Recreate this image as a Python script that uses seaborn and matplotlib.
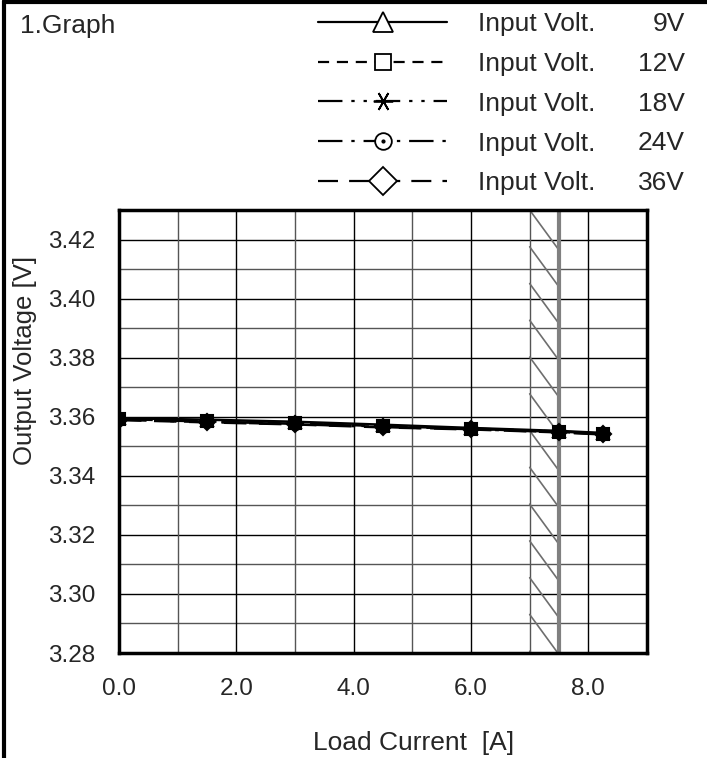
import numpy as np
import pandas as pd
import matplotlib
matplotlib.use('Agg')
import matplotlib.pyplot as plt
import seaborn as sns
from matplotlib.lines import Line2D
from matplotlib.legend_handler import HandlerTuple

# Load current [A] vs output voltage [V] for each input voltage
load_current = [0.0, 1.5, 3.0, 4.5, 6.0, 7.5, 8.25]
vout_9v = [3.3595, 3.3590, 3.3583, 3.3573, 3.3562, 3.3552, 3.3545]
vout_12v = [3.3592, 3.3585, 3.3578, 3.3568, 3.3560, 3.3550, 3.3543]
vout_18v = [3.3590, 3.3582, 3.3575, 3.3565, 3.3558, 3.3548, 3.3541]
vout_24v = [3.3591, 3.3584, 3.3576, 3.3567, 3.3559, 3.3549, 3.3542]
vout_36v = [3.3589, 3.3581, 3.3574, 3.3564, 3.3557, 3.3547, 3.3540]
input_labels = ['9V', '12V', '18V', '24V', '36V']
x_ticks = [0.0, 2.0, 4.0, 6.0, 8.0]
y_ticks = [3.28, 3.30, 3.32, 3.34, 3.36, 3.38, 3.40, 3.42]
rated_current = 7.5

series = [vout_9v, vout_12v, vout_18v, vout_24v, vout_36v]
markers = ['^', 's', (6, 2, 90), 'o', 'D']
plot_msize = [8, 9, 9, 8, 8]
leg_msize = [14, 11, 14, 12, 14]
styles = ['-', (0, (5, 3.5)), (0, (11, 4, 1.5, 4, 1.5, 4)), (0, (11, 4, 1.5, 4)), (0, (9, 5))]

sns.set_style('white')
plt.rcParams['font.family'] = ['Liberation Sans', 'DejaVu Sans']

fig = plt.figure(figsize=(7.07, 7.58), dpi=100)
ax = fig.add_axes([119 / 707, 1 - 653 / 758, (647 - 119) / 707, (653 - 210) / 758])

# grid
for v in np.arange(3.28, 3.4301, 0.01):
    major = abs(round(v * 100) % 2) < 1e-9
    ax.axhline(v, color='black' if major else '#555555', lw=1.0, zorder=1)
for v in np.arange(1, 9, 1):
    ax.axvline(v, color='black' if v % 2 == 0 else '#555555', lw=1.0, zorder=1)

# hatched region 7.0 - 7.5 A
for y0 in np.arange(3.43, 3.27, -0.01245):
    ax.plot([7.0, rated_current], [y0, y0 - 0.0136], color='#6e6e6e', lw=1.2,
            zorder=2, clip_on=True)
ax.axvline(rated_current, color='#808080', lw=3, zorder=2)

for vals, mk, ls, ms in zip(series, markers, styles, plot_msize):
    sns.lineplot(x=load_current, y=vals, ax=ax, color='black', marker=mk,
                 linestyle=ls, lw=1.8, markersize=ms, markerfacecolor='black',
                 markeredgecolor='black', markeredgewidth=1.5, zorder=5)

ax.set_xlim(0, 9.0)
ax.set_ylim(3.28, 3.43)
ax.set_xticks(x_ticks)
ax.set_xticklabels([f'{t:.1f}' for t in x_ticks])
ax.set_yticks(y_ticks)
ax.set_yticklabels([f'{t:.2f}' for t in y_ticks])
ax.tick_params(axis='both', length=0, labelsize=17.5)
ax.tick_params(axis='x', pad=18)
ax.tick_params(axis='y', pad=17)
for s in ax.spines.values():
    s.set_visible(True)
    s.set_color('black')
    s.set_linewidth(2.5)
    s.set_zorder(6)

ax.set_xlabel('Load Current  [A]', fontsize=19)
ax.set_ylabel('Output Voltage [V]', fontsize=18.5)
ax.yaxis.set_label_coords(-94 / 528, 0.66)
ax.xaxis.set_label_coords((414 - 119) / 528, -(743 - 653) / 443)
ax.xaxis.label.set_va('center')
ax.yaxis.label.set_va('center')

fig.text(20 / 707, 1 - 26 / 758, '1.Graph', fontsize=19, va='center', ha='left')

# legend
handles = []
for mk, ls, ms in zip(markers, styles, leg_msize):
    h = Line2D([], [], color='black', linestyle=ls, lw=1.6, marker=mk, markersize=ms,
               markerfacecolor='white', markeredgecolor='black', markeredgewidth=1.3)
    if mk == 'o':
        dot = Line2D([], [], linestyle='none', marker='.', markersize=4, color='black')
        handles.append((h, dot))
    else:
        handles.append(h)
leg = fig.legend(handles, ['Input Volt.'] * 5, loc='upper left',
                 bbox_to_anchor=(318 / 707, 1 - 12 / 758), frameon=False, fontsize=19,
                 borderpad=0, borderaxespad=0, handlelength=4.9, handletextpad=1.15,
                 labelspacing=0.6,
                 handler_map={tuple: HandlerTuple(ndivide=1, pad=0)})
fig.canvas.draw()
for txt, lab in zip(leg.get_texts(), input_labels):
    bb = txt.get_window_extent()
    fig.text(685 / 707, (bb.y0 + bb.y1) / 2 / fig.bbox.height, lab,
             fontsize=19, ha='right', va='center')

# page border
fig.add_artist(Line2D([3.5 / 707, 3.5 / 707], [0, 1 - 1 / 758], color='black', lw=3,
                      transform=fig.transFigure))
fig.add_artist(Line2D([3.5 / 707, 1], [1 - 2 / 758, 1 - 2 / 758], color='black', lw=3,
                      transform=fig.transFigure))

fig.savefig('out.png', dpi=100)
